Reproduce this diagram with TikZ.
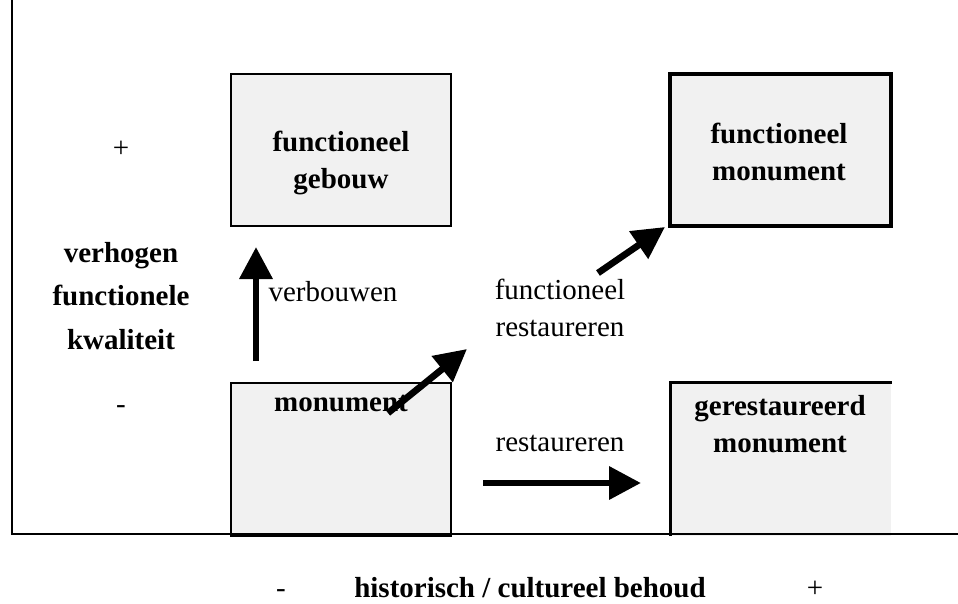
\documentclass[tikz,border=0pt]{standalone}
\usepackage{fontspec}
\setmainfont{Liberation Serif}
\usetikzlibrary{positioning, arrows.meta}
\definecolor{boxgray}{gray}{0.945}
\tikzstyle{arrow} = [line width=3.8pt,-{Triangle[length=6.4mm,width=6.4mm]}]
\tikzstyle{conceptBox} = [rectangle, fill=boxgray, minimum width=4.4cm, minimum height=3.04cm, inner sep=0pt]
\tikzstyle{boxLabel} = [font=\bfseries\fontsize{16.5}{21}\selectfont, align=center]
\tikzstyle{plainLabel} = [font=\fontsize{16.5}{21}\selectfont, align=center]

\begin{document}
\begin{tikzpicture}[x=0.02cm, y=-0.02cm]
\useasboundingbox (0,0) rectangle (958,603);
%----------------------------------------------------------------------------
% Placement of the four boxes
\node (gebouw) [conceptBox, draw, line width=1.1pt] at (341,150) {};
\node (functMon) [conceptBox, draw, line width=2.4pt, minimum width=4.42cm, right=4.32cm of gebouw] {};
\node (monument) [conceptBox, draw, line width=1.1pt, minimum height=3.06cm, below=3.1cm of gebouw] {};
\node (gerestMon) [conceptBox, minimum height=3.06cm, right=4.38cm of monument] {};
\draw [line width=1.7pt] (gerestMon.south west) |- (gerestMon.north east);

%----------------------------------------------------------------------------
% Axes
\coordinate (axisTop) at (12,0);
\coordinate (axisOrigin) at (12,534);
\coordinate (axisEnd) at (958,534);
\draw [line width=1.4pt] (axisTop) -- (axisOrigin) -- (axisEnd);

%----------------------------------------------------------------------------
% Texts
\node (gebouwTxt) [boxLabel] at (341,163) {functioneel\\gebouw};
\node (functMonTxt) [boxLabel] at (779,152) {functioneel\\monument};
\node (monumentTxt) [boxLabel] at (341,404) {monument};
\node (gerestMonTxt) [boxLabel] at (780,424) {gerestaureerd\\monument};

\node (plusV) [plainLabel] at (121,149) {+};
\node (kwaliteit) [boxLabel, font=\bfseries\fontsize{16.5}{25}\selectfont] at (121,296) {verhogen\\functionele\\kwaliteit};
\node (minV) [plainLabel] at (121,410) {-};

\node (verbouwen) [plainLabel] at (333,292) {verbouwen};
\node (functRest) [plainLabel] at (560,308) {functioneel\\restaureren};
\node (restaureren) [plainLabel] at (560,443) {restaureren};

\node (minH) [plainLabel, inner sep=1pt] at (281,594) {-};
\node (behoud) [boxLabel, inner sep=1pt] at (530,588) {historisch / cultureel behoud};
\node (plusH) [plainLabel, inner sep=1pt] at (815,589) {+};

%----------------------------------------------------------------------------
% Draw arrows
\coordinate (upFrom) at (256,361);
\coordinate (upTo) at (256,247);
\coordinate (diagFrom) at (388,413);
\coordinate (diagTo) at (467,349);
\coordinate (diagTwoFrom) at (598,273);
\coordinate (diagTwoTo) at (665,227);
\coordinate (restFrom) at (483,483);
\coordinate (restTo) at (641,483);

\draw [arrow] (upFrom) -- (upTo);
\draw [arrow] (diagFrom) -- (diagTo);
\draw [arrow] (diagTwoFrom) -- (diagTwoTo);
\draw [arrow] (restFrom) -- (restTo);

\end{tikzpicture}
\end{document}
